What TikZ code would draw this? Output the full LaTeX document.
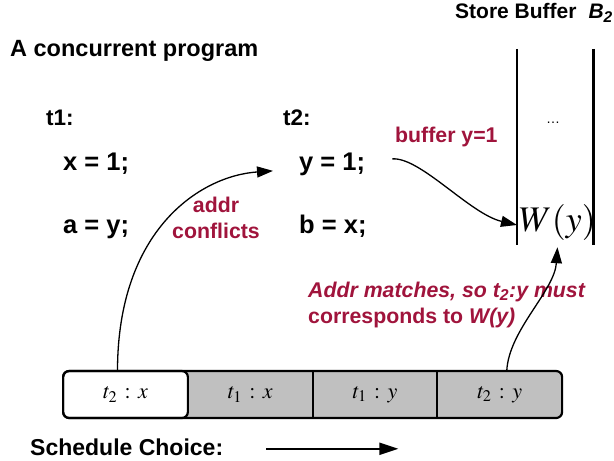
\documentclass[tikz,border=0pt]{standalone}
\usepackage{mathptmx}
\usepackage{fontspec}
\setmainfont{Liberation Sans}
\usetikzlibrary{arrows.meta,positioning,backgrounds}
\definecolor{notered}{RGB}{160,20,60}
\definecolor{cellgray}{RGB}{192,192,192}

\begin{document}
\begin{tikzpicture}[x=1pt, y=-1pt,
    code line/.style={font=\fontsize{25.5}{30}\selectfont\bfseries, inner sep=0pt, anchor=base west},
    thread name/.style={code line, font=\fontsize{22.5}{27}\selectfont\bfseries},
    red note/.style={font=\fontsize{21.3}{26}\selectfont\bfseries, text=notered, inner sep=0pt},
    slot/.style={minimum width=124.75pt, minimum height=47pt, inner sep=0pt, outer sep=0pt,
                 font=\fontsize{22}{26}\selectfont},
    slot border/.style={line width=2.2pt},
    wall/.style={line width=2.6pt},
    link/.style={line width=1.3pt, -{Triangle[length=16pt,width=11pt]}}]
  \useasboundingbox (0,0) rectangle (614,461);

  % program text
  \node[code line, font=\fontsize{23.5}{28}\selectfont\bfseries] (title) at (10,56) {A concurrent program};
  \node[thread name] (t1) at (46,125) {t1:};
  \node[code line] (x1) at (63,170) {x = 1;};
  \node[code line] (a1) at (63,233) {a = y;};
  \node[thread name] (t2) at (283,125) {t2:};
  \node[code line] (y1) at (299,170) {y = 1;};
  \node[code line] (b1) at (299,233) {b = x;};

  % store buffer
  \node[code line, font=\fontsize{21}{25}\selectfont\bfseries] (sb) at (455,18.5)
    {Store Buffer\hspace{12pt}\textit{B\textsubscript{2}}};
  \node[minimum width=76pt, minimum height=196pt, inner sep=0pt] (buf) at (555,147) {};
  \draw[wall] (buf.north west) -- (buf.south west);
  \draw[wall] (buf.north east) -- (buf.south east);
  \node[anchor=base, font=\fontsize{14}{16}\selectfont] (dots) at (553,123) {\dots};
  \node[anchor=base west, inner sep=2pt, font=\fontsize{36}{40}\selectfont] (wy) at (517,231) {$W(y)$};

  % notes
  \node[red note, anchor=base west] (bnote) at (395,142) {buffer y=1};
  \node[red note, anchor=base] (conf1) at (216,212) {addr};
  \node[red note, anchor=base] (conf2) at (216,238) {conflicts};
  \node[red note, anchor=base west] (match1) at (308,297) {\itshape Addr matches, so t\textsubscript{2}:y must};
  \node[red note, anchor=base west] (match2) at (308,323) {corresponds to \textit{W(y)}};

  % schedule
  \node[slot, fill=white, draw, slot border, rounded corners=6pt] (c1) at (125.5,394.5) {$t_2 \,:\, x$};
  \node[slot, right=0pt of c1] (c2) {$t_1 \,:\, x$};
  \node[slot, right=0pt of c2] (c3) {$t_1 \,:\, y$};
  \node[slot, right=0pt of c3] (c4) {$t_2 \,:\, y$};
  \begin{scope}[on background layer]
    \fill[cellgray, rounded corners=6pt] (c1.north west) rectangle (c4.south east);
  \end{scope}
  \draw[slot border] (c2.north east) -- (c2.south east);
  \draw[slot border] (c3.north east) -- (c3.south east);
  \draw[slot border, rounded corners=6pt] (c1.north west) rectangle (c4.south east);

  \node[code line, font=\fontsize{23}{27}\selectfont\bfseries] (sched) at (30,455) {Schedule Choice:};
  \draw[line width=2.2pt, -{Triangle[length=19pt,width=12pt]}]
    ([xshift=43pt,yshift=-2pt]sched.east) -- ++(132,0);

  % connectors
  \draw[link] ([xshift=-8pt]c1.north) .. controls +(0,-141) and +(-73,5) .. ([xshift=-26pt,yshift=-7pt]y1.west);
  \draw[link] ([xshift=27pt,yshift=5pt]y1.east) .. controls +(28,-2) and +(-47,-11) .. ([yshift=-3pt]wy.west);
  \draw[link] ([xshift=7pt]c4.north) .. controls +(2,-41) and +(-3,44) .. ([yshift=-5pt]wy.south);
\end{tikzpicture}
\end{document}
